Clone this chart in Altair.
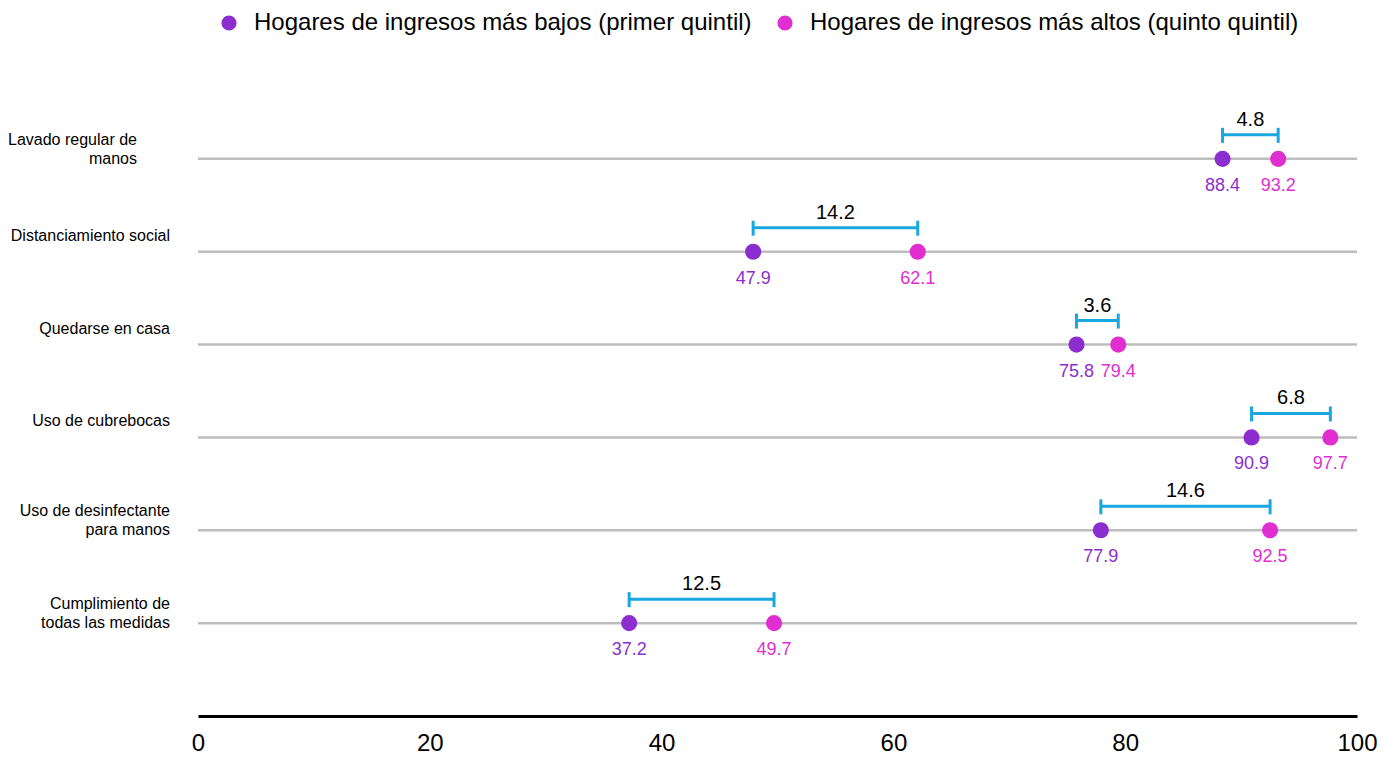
import altair as alt
import pandas as pd

categories = [
    "Lavado regular de\nmanos",
    "Distanciamiento social",
    "Quedarse en casa",
    "Uso de cubrebocas ",
    "Uso de desinfectante\npara manos",
    "Cumplimiento de\ntodas las medidas",
]
low_values = [88.4, 47.9, 75.8, 90.9, 77.9, 37.2]
high_values = [93.2, 62.1, 79.4, 97.7, 92.5, 49.7]
gap_values = [4.8, 14.2, 3.6, 6.8, 14.6, 12.5]
series_names = [
    "Hogares de ingresos más bajos (primer quintil)",
    "Hogares de ingresos más altos (quinto quintil)",
]
x_ticks = [0, 20, 40, 60, 80, 100]

PURPLE = "#8c2ecf"
MAGENTA = "#e12ed1"
BLUE = "#1aa6e0"
GRAY = "#bdbdbd"
FONT = "Liberation Sans"

rows = list(range(1, len(categories) + 1))
wide = pd.DataFrame({
    "row": rows,
    "cat": categories,
    "lo": low_values,
    "hi": high_values,
    "gap": [f"{g:.1f}" for g in gap_values],
})
wide["multi"] = wide["cat"].str.contains("\n")
long = pd.DataFrame(
    [{"row": r, "serie": series_names[0], "v": lo, "lab": f"{lo:.1f}"}
     for r, lo in zip(rows, low_values)]
    + [{"row": r, "serie": series_names[1], "v": hi, "lab": f"{hi:.1f}"}
       for r, hi in zip(rows, high_values)]
)

yscale = alt.Scale(domain=[0, 7], reverse=True)
xscale = alt.Scale(domain=[0, 100], nice=False, zero=True)
color_scale = alt.Scale(domain=series_names, range=[PURPLE, MAGENTA])

base_w = alt.Chart(wide)
base_l = alt.Chart(long)

y_enc = alt.Y("row:Q", scale=yscale, axis=None)

gridlines = base_w.mark_rule(color=GRAY, strokeWidth=2.5).encode(
    x=alt.X("xs:Q", scale=xscale,
            axis=alt.Axis(values=x_ticks, title=None, ticks=False, grid=False,
                          domainColor="black", domainWidth=3,
                          labelFontSize=24, labelFont=FONT, labelColor="black",
                          labelPadding=15, labelFlush=False)),
    x2=alt.X2("xe:Q"),
    y=y_enc,
).transform_calculate(xs="0", xe="100")

bracket = base_w.mark_rule(color=BLUE, strokeWidth=3, yOffset=-24).encode(
    x=alt.X("lo:Q", scale=xscale), x2="hi:Q", y=y_enc
)
tick_lo = base_w.mark_rule(color=BLUE, strokeWidth=3, yOffset=-31, y2Offset=-16).encode(
    x=alt.X("lo:Q", scale=xscale), y=y_enc, y2="row:Q"
)
tick_hi = base_w.mark_rule(color=BLUE, strokeWidth=3, yOffset=-31, y2Offset=-16).encode(
    x=alt.X("hi:Q", scale=xscale), y=y_enc, y2="row:Q"
)
gap_text = base_w.mark_text(fontSize=20, font=FONT, color="black", dy=-39).encode(
    x=alt.X("mid:Q", scale=xscale), y=y_enc, text="gap:N"
).transform_calculate(mid="(datum.lo + datum.hi) / 2")

points = base_l.mark_circle(size=260, opacity=1).encode(
    x=alt.X("v:Q", scale=xscale),
    y=y_enc,
    color=alt.Color("serie:N", scale=color_scale, sort=series_names,
                    legend=alt.Legend(orient="none", legendX=19, legendY=-55,
                                      direction="horizontal", title=None,
                                      symbolType="circle", symbolSize=230,
                                      symbolStrokeWidth=0, symbolOpacity=1,
                                      labelFontSize=24, labelFont=FONT,
                                      labelColor="black", labelOffset=13,
                                      columnPadding=21, padding=0,
                                      labelLimit=700)),
)
value_text = base_l.mark_text(fontSize=18, font=FONT, dy=27).encode(
    x=alt.X("v:Q", scale=xscale), y=y_enc, text="lab:N",
    color=alt.Color("serie:N", scale=color_scale, legend=None),
)
label_style = dict(fontSize=16, font=FONT, color="black", align="right",
                   baseline="middle", lineBreak="\n", lineHeight=19)
row_labels_single = base_w.mark_text(dy=-16, **label_style).encode(
    x=alt.value(-28), y=y_enc, text="cat:N"
).transform_filter("!datum.multi")
row_labels_multi = base_w.mark_text(dy=-19, **label_style).encode(
    x=alt.value(-28), y=y_enc, text="cat:N"
).transform_filter("datum.multi && datum.row != 1")
row_label_first = base_w.mark_text(dy=-19, **label_style).encode(
    x=alt.value(-61), y=y_enc, text="cat:N"
).transform_filter("datum.row == 1")

chart = alt.layer(
    gridlines, bracket, tick_lo, tick_hi, gap_text, points, value_text,
    row_labels_single, row_labels_multi, row_label_first,
).properties(
    width=1159, height=650,
    autosize=alt.AutoSizeParams(type="none"),
    padding={"left": 190, "top": 58, "right": 30, "bottom": 44},
).configure(font=FONT, view=alt.ViewConfig(stroke=None))

chart.save("out.html", embed_options={"renderer": "svg", "actions": False})
